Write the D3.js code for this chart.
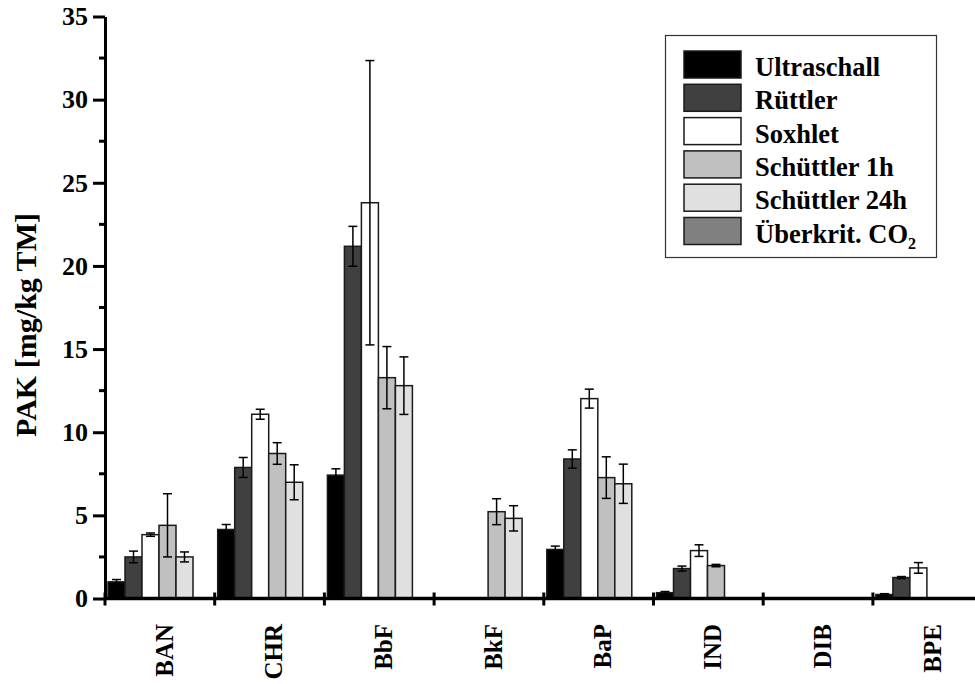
<!DOCTYPE html>
<html>
<head>
<meta charset="utf-8">
<script src="https://cdn.jsdelivr.net/npm/d3@7"></script>
<style>
  body { margin: 0; background: #fff; }
  svg text { font-family: "Liberation Serif"; font-weight: bold; fill: #000; }
</style>
</head>
<body>
<div id="chart"></div>
<script>

// PAK contents per extraction method

const categories = ["BAN", "CHR", "BbF", "BkF", "BaP", "IND", "DIB", "BPE"];
const seriesNames = ["Ultraschall", "Rüttler", "Soxhlet", "Schüttler 1h", "Schüttler 24h", "Überkrit. CO2"];

const ultraschall    = [1.0, 4.15, 7.42, null, 2.95, 0.35, null, 0.24];
const ultraschallErr = [0.14, 0.3, 0.38, null, 0.2, 0.07, null, 0.05];
const ruettler       = [2.5, 7.88, 21.18, null, 8.39, 1.8, null, 1.26];
const ruettlerErr    = [0.35, 0.6, 1.2, null, 0.55, 0.15, null, 0.06];
const soxhlet        = [3.84, 11.08, 23.8, null, 12.02, 2.88, null, 1.84];
const soxhletErr     = [0.1, 0.3, 8.55, null, 0.57, 0.35, null, 0.32];
const schuettler1h    = [4.4, 8.72, 13.28, 5.22, 7.27, 1.98, 0, null];
const schuettler1hErr = [1.9, 0.65, 1.87, 0.78, 1.25, 0.07, null, null];
const schuettler24h    = [2.5, 6.99, 12.8, 4.82, 6.9, null, null, null];
const schuettler24hErr = [0.3, 1.05, 1.73, 0.76, 1.18, null, null, null];
const co2    = [null, null, null, null, null, null, null, null];
const co2Err = [null, null, null, null, null, null, null, null];

const yTicks = [0, 5, 10, 15, 20, 25, 30, 35];

const seriesValues = [ultraschall, ruettler, soxhlet, schuettler1h, schuettler24h, co2];
const seriesErrors = [ultraschallErr, ruettlerErr, soxhletErr, schuettler1hErr, schuettler24hErr, co2Err];
const colors = ["#000000", "#404040", "#ffffff", "#c0c0c0", "#e0e0e0", "#808080"];

const width = 975, height = 684;

// apply the serif bold face every way we can
const serifText = (sel, size) => sel
  .attr("font-family", "Liberation Serif")
  .attr("font-weight", "bold")
  .attr("font-size", size)
  .style("font-family", "Liberation Serif")
  .style("font-weight", "bold")
  .style("font-size", size + "px");

const svg = d3.select("#chart")
  .append("svg")
  .attr("width", width)
  .attr("height", height)
  .attr("font-family", "Liberation Serif");

// scales
const xScale = d3.scaleBand()
  .domain(categories)
  .range([105, 105 + 8 * 109.7])
  .padding(0);

const xSub = d3.scaleBand()
  .domain(seriesNames)
  .range([3, 105]);

const yScale = d3.scaleLinear()
  .domain([0, 35])
  .range([598.5, 16.5]);

// flatten into bar records
const bars = [];
seriesNames.forEach((s, i) => {
  categories.forEach((c, j) => {
    if (seriesValues[i][j] !== null) {
      bars.push({ cat: c, series: s, value: seriesValues[i][j], err: seriesErrors[i][j], color: colors[i] });
    }
  });
});

// bars
svg.append("g")
  .selectAll("rect")
  .data(bars)
  .enter()
  .append("rect")
    .attr("x", d => xScale(d.cat) + xSub(d.series))
    .attr("y", d => yScale(d.value))
    .attr("width", xSub.bandwidth())
    .attr("height", d => yScale(0) - yScale(d.value))
    .attr("fill", d => d.color)
    .attr("stroke", "#1a1a1a")
    .attr("stroke-width", 1.5);

// error bars
const errG = svg.append("g")
  .attr("stroke", "#000")
  .attr("stroke-width", 1.5);

const withErr = bars.filter(d => d.err !== null && d.err > 0);
const cx = d => xScale(d.cat) + xSub(d.series) + xSub.bandwidth() / 2;

errG.selectAll(".err-v")
  .data(withErr)
  .enter()
  .append("line")
    .attr("x1", cx).attr("x2", cx)
    .attr("y1", d => yScale(d.value - d.err))
    .attr("y2", d => yScale(d.value + d.err));

errG.selectAll(".err-top")
  .data(withErr)
  .enter()
  .append("line")
    .attr("x1", d => cx(d) - 4.5).attr("x2", d => cx(d) + 4.5)
    .attr("y1", d => yScale(d.value + d.err))
    .attr("y2", d => yScale(d.value + d.err));

errG.selectAll(".err-bot")
  .data(withErr)
  .enter()
  .append("line")
    .attr("x1", d => cx(d) - 4.5).attr("x2", d => cx(d) + 4.5)
    .attr("y1", d => yScale(d.value - d.err))
    .attr("y2", d => yScale(d.value - d.err));

// y axis with major ticks
const yAxis = svg.append("g")
  .attr("transform", "translate(105,0)")
  .call(d3.axisLeft(yScale).tickValues(yTicks).tickSize(12).tickSizeOuter(0).tickPadding(5))
  .attr("font-family", "Liberation Serif");

yAxis.select(".domain").attr("stroke-width", 3);
yAxis.selectAll(".tick line").attr("stroke-width", 3);
serifText(yAxis.selectAll(".tick text"), 26).attr("fill", "#000");

// minor ticks between the labelled ones
svg.append("g")
  .selectAll("line")
  .data(d3.range(2.5, 35, 5))
  .enter()
  .append("line")
    .attr("x1", 99).attr("x2", 105)
    .attr("y1", d => yScale(d)).attr("y2", d => yScale(d))
    .attr("stroke", "#000")
    .attr("stroke-width", 3);

// x axis line and group separators
svg.append("line")
  .attr("x1", 104).attr("x2", width)
  .attr("y1", yScale(0)).attr("y2", yScale(0))
  .attr("stroke", "#000")
  .attr("stroke-width", 3.5);

svg.append("g")
  .selectAll("line")
  .data(categories)
  .enter()
  .append("line")
    .attr("x1", d => xScale(d)).attr("x2", d => xScale(d))
    .attr("y1", yScale(0) - 6).attr("y2", yScale(0) + 7)
    .attr("stroke", "#000")
    .attr("stroke-width", 3);

// category labels, rotated
const catLabels = svg.append("g")
  .selectAll("text")
  .data(categories)
  .enter()
  .append("text")
    .attr("transform", d => `translate(${xScale(d) + xScale.bandwidth() / 2 + 4},624) rotate(-90)`)
    .attr("text-anchor", "end")
    .attr("dy", "0.35em")
    .text(d => d);
serifText(catLabels, 25);

// y axis title
const title = svg.append("text")
  .attr("transform", "translate(25,325) rotate(-90)")
  .attr("text-anchor", "middle")
  .attr("dy", "0.35em")
  .text("PAK [mg/kg TM]");
serifText(title, 30);

// legend
const legend = svg.append("g");

legend.append("rect")
  .attr("x", 665.5).attr("y", 35.5)
  .attr("width", 271).attr("height", 222)
  .attr("fill", "#fff")
  .attr("stroke", "#333")
  .attr("stroke-width", 1.2);

const items = legend.selectAll(".item")
  .data(seriesNames)
  .enter()
  .append("g")
    .attr("transform", (d, i) => `translate(684,${51 + i * 33.3})`);

items.append("rect")
  .attr("width", 57)
  .attr("height", 27)
  .attr("fill", (d, i) => colors[i])
  .attr("stroke", "#1a1a1a")
  .attr("stroke-width", 1.5);

const labels = items.append("text")
  .attr("x", 71)
  .attr("y", 25);
serifText(labels, 26.5);

labels.filter(d => d !== "Überkrit. CO2").text(d => d);

const co2Label = labels.filter(d => d === "Überkrit. CO2");
co2Label.append("tspan").text("Überkrit. CO");
co2Label.append("tspan")
  .attr("dy", 6)
  .attr("font-size", 16)
  .style("font-size", "16px")
  .text("2");

</script>
</body>
</html>
